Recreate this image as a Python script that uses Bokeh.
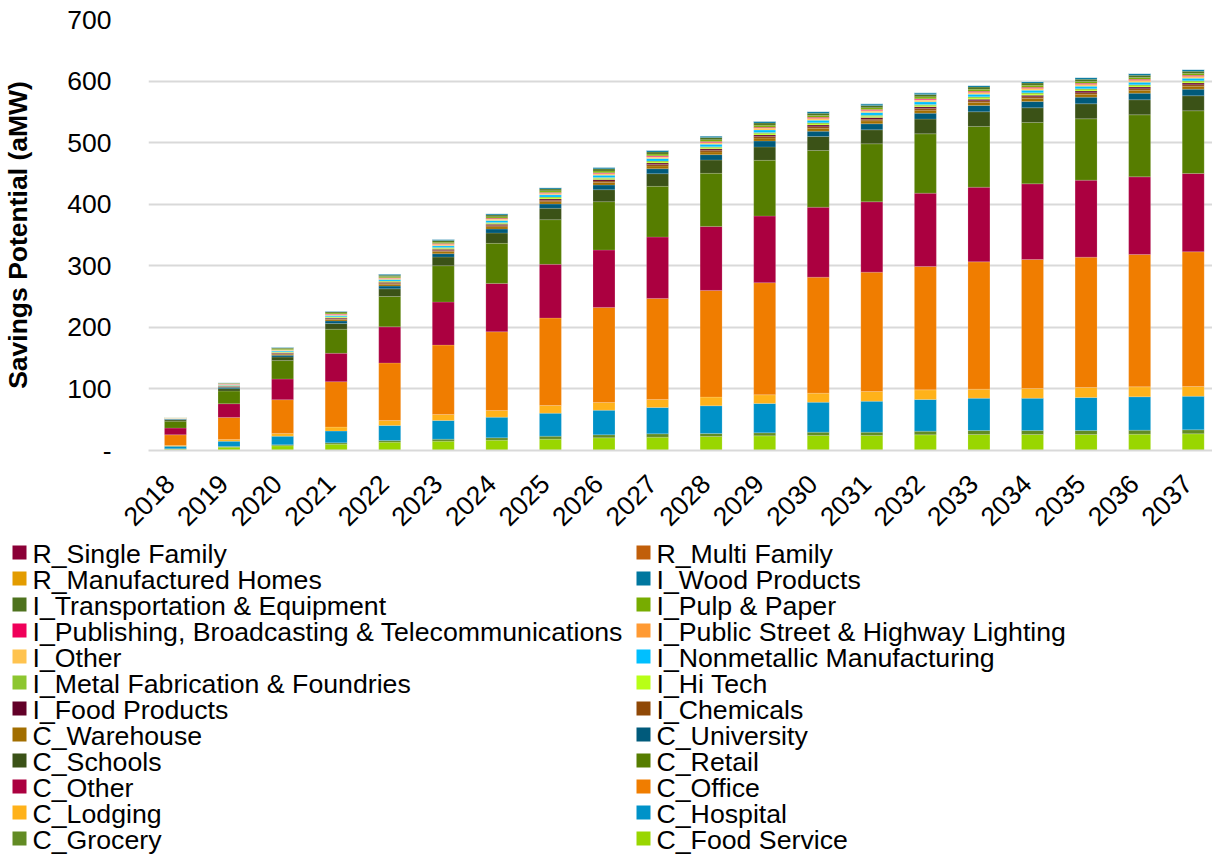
from math import pi
from bokeh.plotting import figure
from bokeh.layouts import column
from bokeh.models import ColumnDataSource, Range1d, FixedTicker
from bokeh.core.properties import value
from bokeh.embed import file_html
from bokeh.resources import INLINE

years = [2018, 2019, 2020, 2021, 2022, 2023, 2024, 2025, 2026, 2027,
         2028, 2029, 2030, 2031, 2032, 2033, 2034, 2035, 2036, 2037]
year_labels = [str(y) for y in years]

y_ticks = [0, 100, 200, 300, 400, 500, 600, 700]

# stacking order: bottom -> top
c_food_service = [2.2, 5.4, 7.6, 10.3, 13.6, 15.2, 16.8, 18.4, 20.6, 21.7, 22.8, 23.8, 24.4, 24.4, 25.4, 26.0, 26.0, 26.0, 26.5, 27.1]
c_grocery = [0.8, 1.1, 1.6, 2.2, 2.7, 3.2, 3.8, 4.9, 4.9, 5.4, 4.8, 4.9, 5.4, 5.4, 6.0, 6.5, 6.5, 6.5, 6.5, 6.5]
c_hospital = [4.1, 8.7, 14.1, 19.0, 24.4, 30.4, 33.6, 37.4, 40.0, 42.8, 45.0, 47.7, 48.7, 50.3, 51.4, 52.5, 52.5, 53.6, 54.2, 54.6]
c_lodging = [1.0, 2.7, 4.4, 6.5, 8.1, 9.7, 10.8, 12.4, 12.5, 13.0, 14.1, 14.1, 14.6, 15.7, 15.7, 14.6, 15.7, 16.2, 16.2, 15.8]
c_office = [17.4, 35.8, 54.8, 73.8, 93.4, 112.7, 127.8, 142.0, 154.4, 164.1, 173.3, 182.0, 188.4, 193.9, 200.4, 206.8, 209.5, 211.7, 215.0, 218.7]
c_other = [10.9, 22.3, 33.6, 46.1, 58.6, 69.9, 78.6, 87.2, 93.2, 99.7, 104.0, 108.3, 113.7, 114.2, 119.1, 121.3, 122.9, 125.1, 126.1, 127.2]
c_retail = [11.3, 20.6, 29.9, 39.1, 49.3, 59.0, 65.0, 72.6, 78.5, 82.3, 86.2, 90.5, 92.1, 94.2, 96.3, 98.6, 99.7, 99.6, 100.7, 101.8]
c_schools = [2.2, 3.8, 5.9, 9.2, 12.5, 14.1, 16.8, 18.4, 19.5, 20.6, 21.6, 21.7, 22.7, 22.7, 23.9, 23.8, 23.8, 24.4, 24.4, 24.4]
c_university = [1.1, 2.2, 2.7, 4.3, 4.4, 5.4, 6.5, 7.0, 7.6, 8.1, 8.7, 9.7, 8.7, 9.8, 9.7, 10.3, 10.3, 10.8, 10.8, 10.8]
c_warehouse = [0.4, 1.1, 1.9, 2.3, 2.9, 3.4, 3.7, 3.9, 4.2, 4.4, 4.5, 4.7, 4.7, 4.8, 4.9, 4.8, 4.8, 4.7, 4.7, 4.7]
i_chemicals = [0.2, 0.6, 1.1, 1.3, 1.6, 1.9, 2.0, 2.2, 2.4, 2.4, 2.5, 2.6, 2.6, 2.7, 2.7, 2.7, 2.7, 2.6, 2.6, 2.6]
i_food_products = [0.2, 0.6, 1.1, 1.3, 1.6, 1.9, 2.0, 2.2, 2.3, 2.4, 2.5, 2.6, 2.6, 2.7, 2.7, 2.7, 2.7, 2.6, 2.6, 2.6]
i_hi_tech = [0.2, 0.4, 0.7, 0.9, 1.1, 1.3, 1.4, 1.5, 1.6, 1.6, 1.7, 1.8, 1.8, 1.8, 1.8, 1.8, 1.8, 1.8, 1.8, 1.8]
i_metal_fab = [0.2, 0.5, 0.8, 1.0, 1.2, 1.4, 1.5, 1.6, 1.7, 1.8, 1.8, 1.9, 1.9, 2.0, 2.0, 2.0, 2.0, 1.9, 1.9, 1.9]
i_nonmetallic = [0.3, 1.0, 1.7, 2.1, 2.5, 3.0, 3.2, 3.5, 3.7, 3.9, 3.9, 4.2, 4.1, 4.2, 4.3, 4.2, 4.2, 4.1, 4.1, 4.1]
i_other = [0.2, 0.5, 0.9, 1.1, 1.3, 1.6, 1.7, 1.8, 1.9, 2.0, 2.0, 2.1, 2.1, 2.2, 2.2, 2.2, 2.2, 2.1, 2.1, 2.1]
i_public_street = [0.1, 0.3, 0.4, 0.5, 0.6, 0.8, 0.8, 0.9, 0.9, 1.0, 1.0, 1.1, 1.1, 1.1, 1.1, 1.1, 1.1, 1.1, 1.1, 1.1]
i_publishing = [0.1, 0.4, 0.6, 0.8, 0.9, 1.1, 1.2, 1.3, 1.4, 1.4, 1.5, 1.5, 1.5, 1.6, 1.6, 1.6, 1.6, 1.5, 1.5, 1.5]
i_pulp_paper = [0.3, 0.7, 1.3, 1.5, 1.9, 2.3, 2.4, 2.6, 2.8, 2.9, 2.9, 3.1, 3.1, 3.1, 3.2, 3.1, 3.1, 3.1, 3.1, 3.1]
i_transportation = [0.3, 0.9, 1.5, 1.8, 2.2, 2.7, 2.9, 3.0, 3.3, 3.4, 3.5, 3.7, 3.7, 3.7, 3.8, 3.7, 3.7, 3.7, 3.7, 3.7]
i_wood_products = [0.2, 0.5, 1.1, 1.2, 1.7, 1.9, 2.1, 2.1, 2.5, 2.6, 2.5, 2.7, 2.7, 2.6, 2.7, 2.6, 2.6, 2.7, 2.7, 2.7]
r_manufactured_homes = [0.0, 0.0, 0.0, 0.0, 0.0, 0.0, 0.0, 0.0, 0.0, 0.0, 0.0, 0.0, 0.0, 0.0, 0.0, 0.0, 0.0, 0.0, 0.0, 0.0]
r_multi_family = [0.0, 0.0, 0.0, 0.0, 0.0, 0.0, 0.0, 0.0, 0.0, 0.0, 0.0, 0.0, 0.0, 0.0, 0.0, 0.0, 0.0, 0.0, 0.0, 0.0]
r_single_family = [0.0, 0.0, 0.0, 0.0, 0.0, 0.0, 0.0, 0.0, 0.0, 0.0, 0.0, 0.0, 0.0, 0.0, 0.0, 0.0, 0.0, 0.0, 0.0, 0.0]

series_names = [
    "C_Food Service", "C_Grocery", "C_Hospital", "C_Lodging", "C_Office",
    "C_Other", "C_Retail", "C_Schools", "C_University", "C_Warehouse",
    "I_Chemicals", "I_Food Products", "I_Hi Tech", "I_Metal Fabrication & Foundries",
    "I_Nonmetallic Manufacturing", "I_Other", "I_Public Street & Highway Lighting",
    "I_Publishing, Broadcasting & Telecommunications", "I_Pulp & Paper",
    "I_Transportation & Equipment", "I_Wood Products", "R_Manufactured Homes",
    "R_Multi Family", "R_Single Family",
]
series_values = [
    c_food_service, c_grocery, c_hospital, c_lodging, c_office,
    c_other, c_retail, c_schools, c_university, c_warehouse,
    i_chemicals, i_food_products, i_hi_tech, i_metal_fab,
    i_nonmetallic, i_other, i_public_street,
    i_publishing, i_pulp_paper,
    i_transportation, i_wood_products, r_manufactured_homes,
    r_multi_family, r_single_family,
]
series_colors = [
    "#99D600", "#628B24", "#0092C8", "#FFB21A", "#F07D00",
    "#AB0040", "#567D00", "#3B5217", "#005A7B", "#A26E00",
    "#8F4806", "#620028", "#B8FF17", "#8DC630",
    "#00BFFF", "#FFC34F", "#FF9A33",
    "#F0005A", "#77AC00",
    "#4E721E", "#00779F", "#E39C00",
    "#C15F0A", "#8B0037",
]

FONT = "Liberation Sans"

data = {"year": years}
for name, vals in zip(series_names, series_values):
    data[name] = vals
source = ColumnDataSource(data)

p = figure(width=1212, height=538,
           x_range=Range1d(2017.497, 2037.36), y_range=Range1d(0, 700),
           output_backend="svg", toolbar_location=None,
           min_border_left=146, min_border_right=0, min_border_top=19,
           min_border_bottom=88)
p.outline_line_color = None
p.background_fill_color = "white"
p.border_fill_color = "white"

p.vbar_stack(series_names, x="year", width=0.41, source=source,
             fill_color=series_colors, line_color="white",
             line_alpha=0.3, line_width=0.5)

p.xgrid.visible = False
p.ygrid.grid_line_color = "#d9d9d9"
p.ygrid.grid_line_width = 2

yax = p.yaxis[0]
yax.ticker = FixedTicker(ticks=y_ticks)
yax.major_label_overrides = {0: "-"}
yax.axis_line_color = None
yax.major_tick_line_color = None
yax.minor_tick_line_color = None
yax.major_label_standoff = 31
yax.major_label_text_font = FONT
yax.major_label_text_font_size = "26.5px"
yax.major_label_text_color = "black"
yax.axis_label = "Savings Potential (aMW)"
yax.axis_label_text_font = FONT
yax.axis_label_text_font_size = "26.5px"
yax.axis_label_text_font_style = "bold"
yax.axis_label_text_color = "black"
yax.axis_label_standoff = 31

label_shift = 0.1
xax = p.xaxis[0]
xax.ticker = FixedTicker(ticks=[y - label_shift for y in years])
xax.major_label_overrides = {y - label_shift: s for y, s in zip(years, year_labels)}
xax.axis_line_color = "#d9d9d9"
xax.axis_line_width = 2
xax.major_tick_line_color = None
xax.minor_tick_line_color = None
xax.major_label_orientation = pi / 4
xax.major_label_standoff = 23
xax.major_label_text_font = FONT
xax.major_label_text_font_size = "26.5px"
xax.major_label_text_color = "black"

# ---- legend panel below the chart (two columns, Excel-like order) ----
LEG_H = 320
lf = figure(width=1212, height=LEG_H, x_range=Range1d(0, 1212), y_range=Range1d(LEG_H, 0),
            output_backend="svg", toolbar_location=None,
            x_axis_location=None, y_axis_location=None, min_border=0)
try:
    lf.frame_align = False
except Exception:
    pass
lf.outline_line_color = None
lf.xgrid.visible = False
lf.ygrid.visible = False

# reading order (row by row) is the reverse of the stacking order
legend_order = list(range(len(series_names)))[::-1]
col_offset = 624
row_top = 14
row_pitch = 26.0
sq_x, sq_y, tx_x, tx_y, leg_names, leg_colors = [], [], [], [], [], []
for k, idx in enumerate(legend_order):
    row, col = divmod(k, 2)
    sq_x.append(19 + col * col_offset)
    tx_x.append(32 + col * col_offset)
    sq_y.append(row_top + row * row_pitch)
    tx_y.append(row_top + row * row_pitch + 1)
    leg_names.append(series_names[idx])
    leg_colors.append(series_colors[idx])

lf.scatter(x=sq_x, y=sq_y, marker="square", size=14, fill_color=leg_colors, line_color=None)
lf.text(x=tx_x, y=tx_y, text=leg_names, text_font=value(FONT), text_font_size="26.7px",
        text_baseline="middle", text_align="left", text_color="black")

layout = column(p, lf, spacing=0)
open("out.html", "w").write(file_html(layout, INLINE))
